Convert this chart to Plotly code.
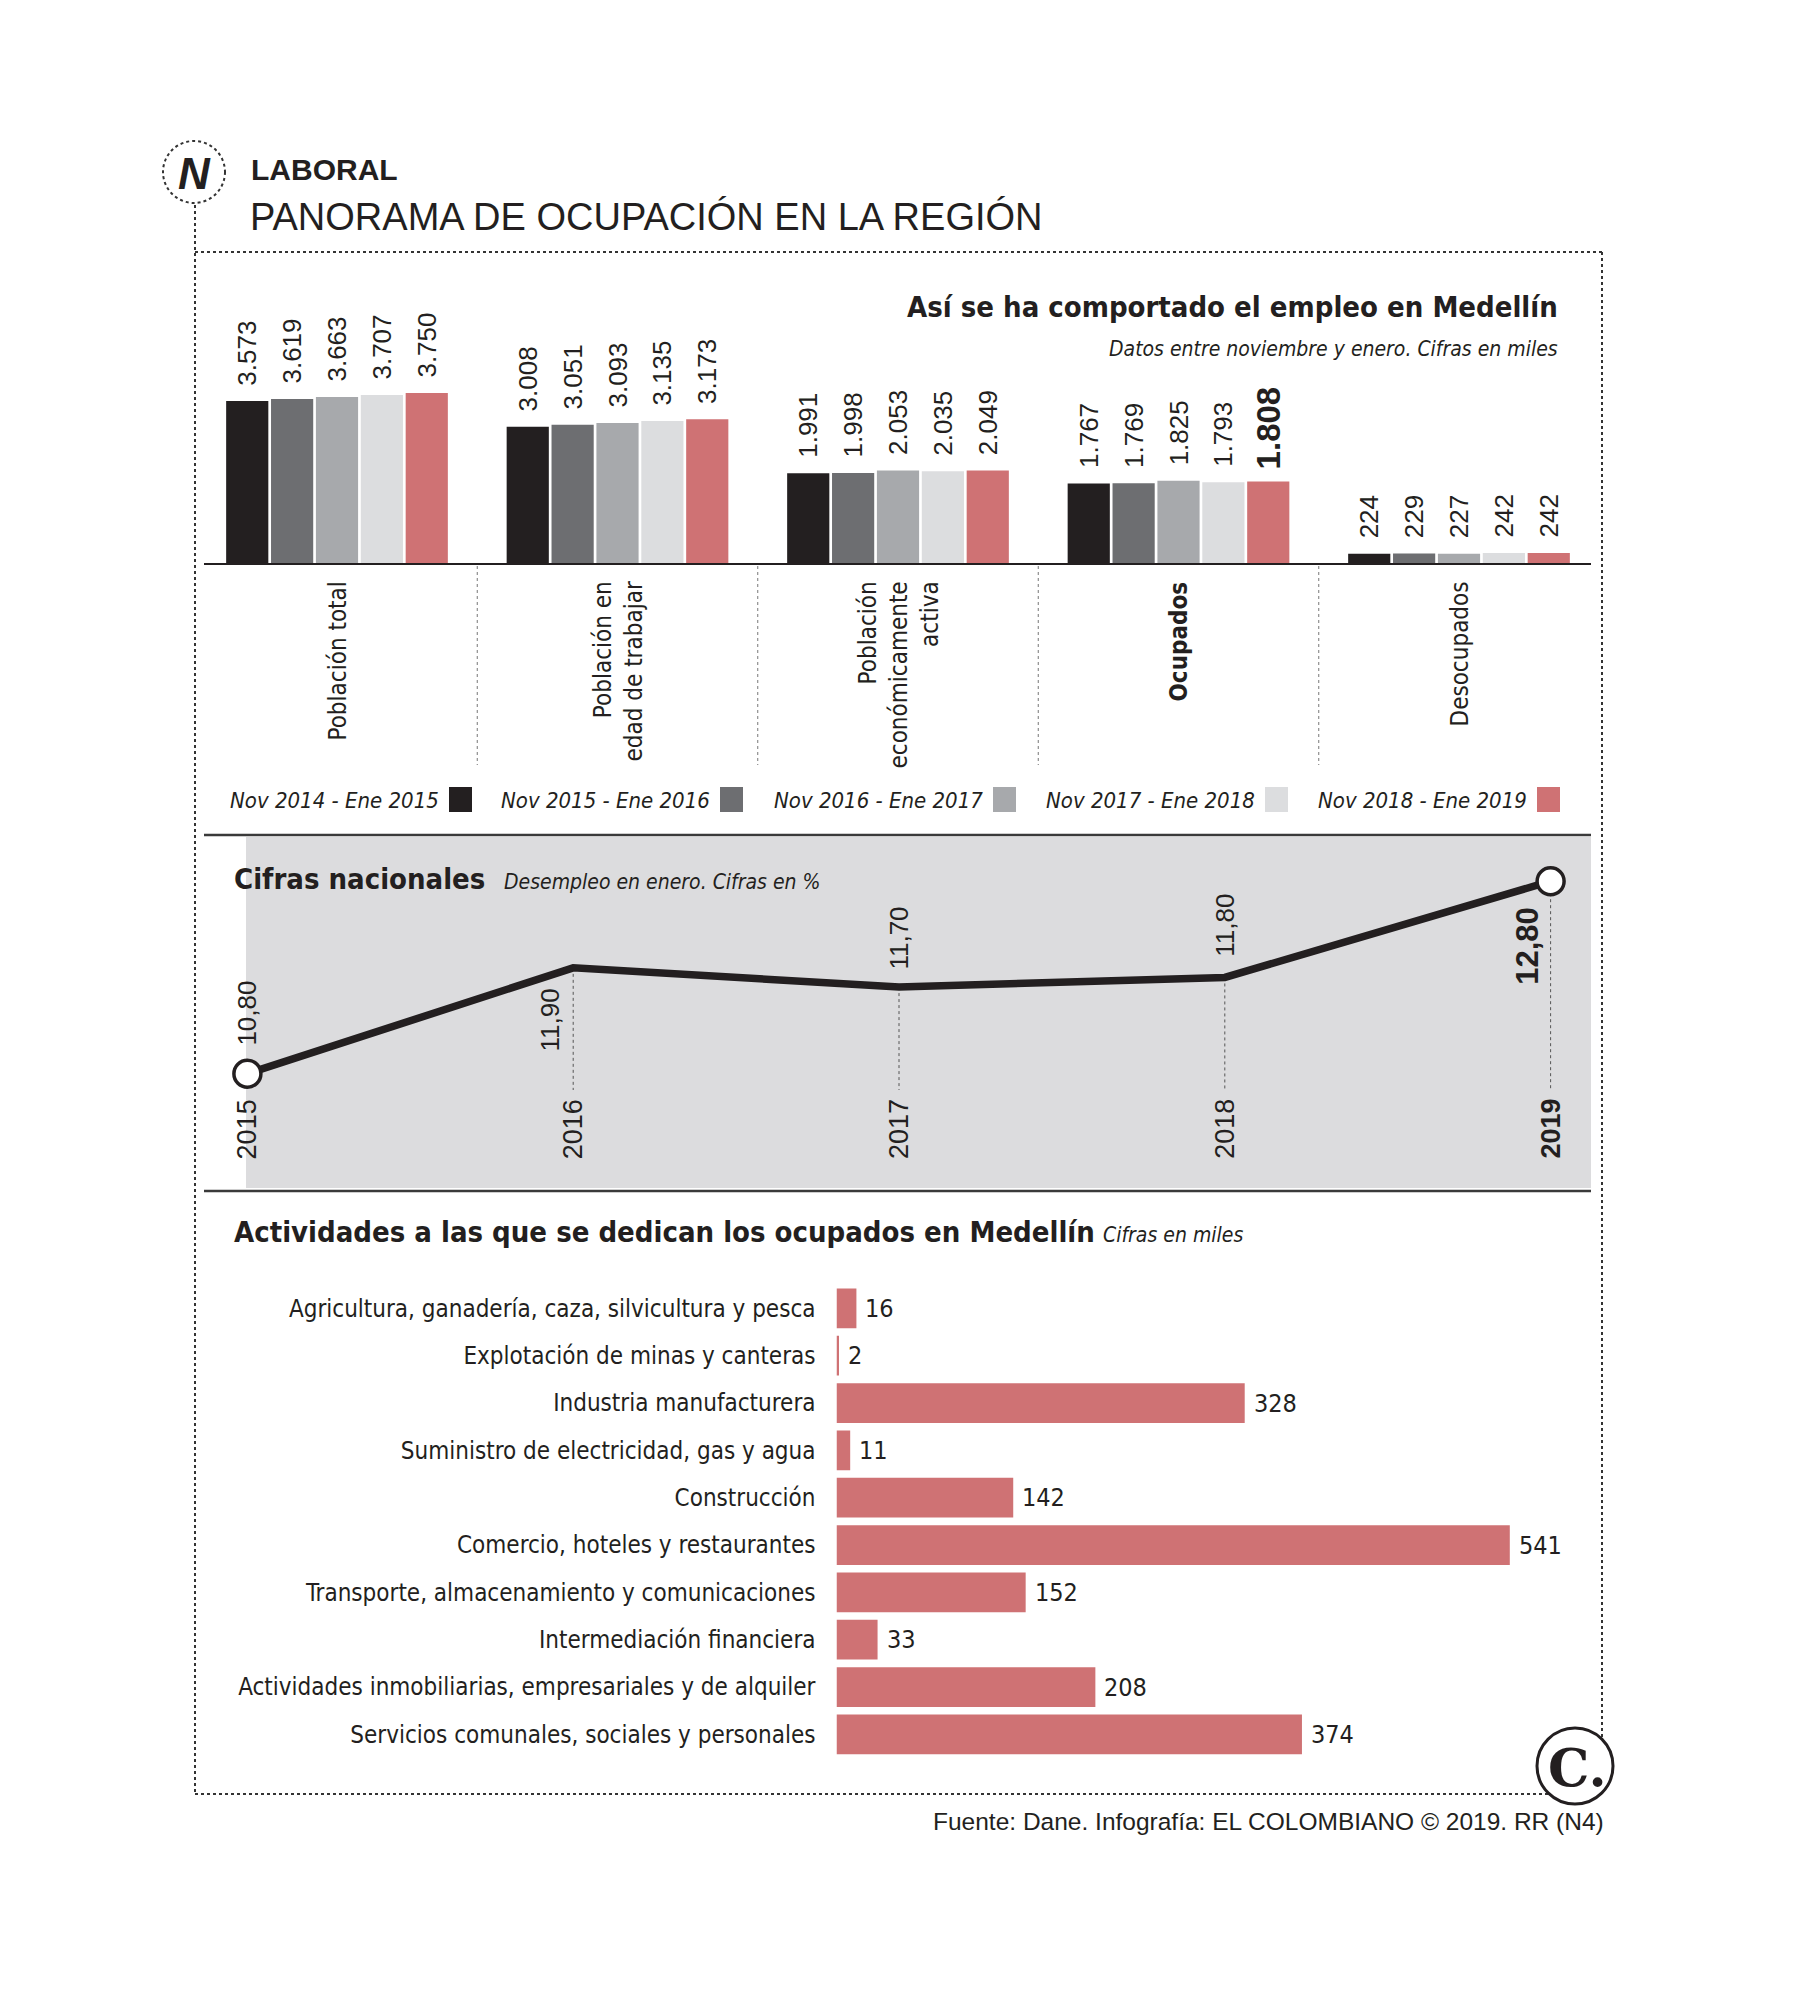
import plotly.graph_objects as go

W, H = 1798, 2000

# ---------------- DATA ----------------
periodos = ["Nov 2014 - Ene 2015", "Nov 2015 - Ene 2016", "Nov 2016 - Ene 2017",
            "Nov 2017 - Ene 2018", "Nov 2018 - Ene 2019"]
categorias = ["Población total", "Población en edad de trabajar",
              "Población económicamente activa", "Ocupados", "Desocupados"]
cat_labels = ["Población total", "Población en<br>edad de trabajar",
              "Población<br>económicamente<br>activa", "<b>Ocupados</b>", "Desocupados"]
v_2015 = [3573, 3008, 1991, 1767, 224]
v_2016 = [3619, 3051, 1998, 1769, 229]
v_2017 = [3663, 3093, 2053, 1825, 227]
v_2018 = [3707, 3135, 2035, 1793, 242]
v_2019 = [3750, 3173, 2049, 1808, 242]
serie_valores = [v_2015, v_2016, v_2017, v_2018, v_2019]

anios = [2015, 2016, 2017, 2018, 2019]
desempleo = [10.8, 11.9, 11.7, 11.8, 12.8]

actividades = ["Agricultura, ganadería, caza, silvicultura y pesca",
               "Explotación de minas y canteras",
               "Industria manufacturera",
               "Suministro de electricidad, gas y agua",
               "Construcción",
               "Comercio, hoteles y restaurantes",
               "Transporte, almacenamiento y comunicaciones",
               "Intermediación financiera",
               "Actividades inmobiliarias, empresariales y de alquiler",
               "Servicios comunales, sociales y personales"]
ocupados_act = [16, 2, 328, 11, 142, 541, 152, 33, 208, 374]

# ---------------- STYLE ----------------
colores = ["#231f20", "#6d6e71", "#a7a9ac", "#dcdddf", "#cf7274"]
INK = "#231f20"
NARROW = "Liberation Sans Narrow, DejaVu Sans Condensed, Arial Narrow, sans-serif"
SANS = "Liberation Sans, Arial, Helvetica, sans-serif"


def px(x):
    return x / W


def py(y):
    return 1 - y / H


def fmt_miles(v):
    return f"{v:,}".replace(",", ".")


def fmt_pct(v):
    return f"{v:.2f}".replace(".", ",")


fig = go.Figure()

# ---------------- TOP: grouped bars ----------------
top_base, top_top = 564, 264
scale_top = 171 / 3750  # px per unit
GAP = "\u00a0\u2009"
for i, (per, vals, col) in enumerate(zip(periodos, serie_valores, colores)):
    texts = [GAP + fmt_miles(v) for v in vals]
    sizes = [26] * len(vals)
    if i == len(periodos) - 1:
        k = categorias.index("Ocupados")
        texts[k] = "\u00a0<b>" + fmt_miles(vals[k]) + "</b>"
        sizes[k] = 33
    fig.add_trace(go.Bar(
        x=categorias, y=vals, name=per, marker=dict(color=col, line=dict(width=0)),
        text=texts, textposition="outside", textangle=-90, constraintext="none",
        textfont=dict(family=SANS, size=sizes, color=INK), cliponaxis=False,
        xaxis="x", yaxis="y", hoverinfo="skip"))

# ---------------- MIDDLE: line ----------------
lx0, lx1 = 247.4, 1550.6
ly_min_px, ly_max_px = 1073.7, 881.2
ppy = (lx1 - lx0) / (anios[-1] - anios[0])
ppv = (ly_min_px - ly_max_px) / (desempleo[-1] - desempleo[0])
mid_left, mid_right, mid_top, mid_bot = 204, 1591, 836, 1188
x2_range = [anios[0] - (lx0 - mid_left) / ppy, anios[-1] + (mid_right - lx1) / ppy]
y2_range = [desempleo[0] - (mid_bot - ly_min_px) / ppv, desempleo[0] + (ly_min_px - mid_top) / ppv]

fig.add_trace(go.Scatter(x=anios, y=desempleo, mode="lines",
                         line=dict(color=INK, width=7.5), xaxis="x2", yaxis="y2",
                         hoverinfo="skip", cliponaxis=False))
fig.add_trace(go.Scatter(x=[anios[0], anios[-1]], y=[desempleo[0], desempleo[-1]], mode="markers",
                         marker=dict(size=27, color="white", line=dict(color=INK, width=3.5)),
                         xaxis="x2", yaxis="y2", hoverinfo="skip", cliponaxis=False))

# ---------------- BOTTOM: horizontal bars ----------------
hb_left, hb_right = 836.5, 1591
pph = (1509.8 - 836.5) / 541
row_top, row_bot = 1284.7, 1758.0
fig.add_trace(go.Bar(
    x=ocupados_act, y=actividades, orientation="h", width=0.84,
    marker=dict(color=colores[-1], line=dict(width=0)),
    xaxis="x3", yaxis="y3", hoverinfo="skip"))

axis_off = dict(showgrid=False, zeroline=False, showticklabels=False, showline=False, ticks="")
fig.update_layout(
    width=W, height=H, margin=dict(l=0, r=0, t=0, b=0),
    paper_bgcolor="white", plot_bgcolor="rgba(0,0,0,0)", showlegend=False,
    barmode="group", bargap=0.2, bargroupgap=0.06,
    xaxis=dict(domain=[px(196.75), px(1599.25)], categoryorder="array",
               categoryarray=categorias, range=[-0.5, 4.5], **axis_off),
    yaxis=dict(domain=[py(top_base), py(top_top)],
               range=[0, (top_base - top_top) / scale_top], **axis_off),
    xaxis2=dict(domain=[px(mid_left), px(mid_right)], range=x2_range, anchor="y2", **axis_off),
    yaxis2=dict(domain=[py(mid_bot), py(mid_top)], range=y2_range, anchor="x2", **axis_off),
    xaxis3=dict(domain=[px(hb_left), px(hb_right)], range=[0, (hb_right - hb_left) / pph],
                anchor="y3", **axis_off),
    yaxis3=dict(domain=[py(row_bot), py(row_top)], anchor="x3", categoryorder="array",
                categoryarray=actividades, range=[len(actividades) - 0.5, -0.5],
                showgrid=False, zeroline=False, showline=False, ticks="",
                showticklabels=True, ticklabelstandoff=20,
                tickfont=dict(family=NARROW, size=24, color=INK)),
)

shapes = []
ann = []

# Outer dotted frame
frame = dict(color="#333333", width=2, dash="dot")
shapes.append(dict(type="line", xref="paper", yref="paper", x0=px(195), x1=px(1602), y0=py(252), y1=py(252), line=frame))
shapes.append(dict(type="line", xref="paper", yref="paper", x0=px(195), x1=px(195), y0=py(205), y1=py(1794), line=frame))
shapes.append(dict(type="line", xref="paper", yref="paper", x0=px(1602), x1=px(1602), y0=py(252), y1=py(1794), line=frame))
shapes.append(dict(type="line", xref="paper", yref="paper", x0=px(195), x1=px(1602), y0=py(1794), y1=py(1794), line=frame))

# N logo
shapes.append(dict(type="circle", xref="paper", yref="paper", x0=px(163), x1=px(225), y0=py(141), y1=py(203),
                   line=dict(color="#333333", width=2, dash="dot"), fillcolor="white"))
ann.append(dict(x=px(194), y=py(173), xref="paper", yref="paper", text="<b><i>N</i></b>", showarrow=False,
                font=dict(family=SANS, size=44, color=INK), xanchor="center", yanchor="middle"))

# Header
ann.append(dict(x=px(249), y=py(170), xref="paper", yref="paper", text="<b>LABORAL</b>", showarrow=False,
                font=dict(family=SANS, size=30, color=INK), xanchor="left", yanchor="middle"))
ann.append(dict(x=px(248), y=py(217), xref="paper", yref="paper", text="PANORAMA DE OCUPACIÓN EN LA REGIÓN",
                showarrow=False, font=dict(family=SANS, size=38, color=INK), xanchor="left", yanchor="middle"))

# Top chart titles
ann.append(dict(x=px(1560), y=py(307), xref="paper", yref="paper",
                text="<b>Así se ha comportado el empleo en Medellín</b>", showarrow=False,
                font=dict(family=NARROW, size=29, color=INK), xanchor="right", yanchor="middle"))
ann.append(dict(x=px(1560), y=py(349), xref="paper", yref="paper",
                text="<i>Datos entre noviembre y enero. Cifras en miles</i>", showarrow=False,
                font=dict(family=NARROW, size=21, color=INK), xanchor="right", yanchor="middle"))

# baseline of top chart
shapes.append(dict(type="line", xref="paper", yref="paper", x0=px(204), x1=px(1591), y0=py(564), y1=py(564),
                   line=dict(color=INK, width=2)))
# dotted separators between categories
for k in range(len(categorias) - 1):
    shapes.append(dict(type="line", xref="x", yref="paper", x0=k + 0.5, x1=k + 0.5, y0=py(566), y1=py(765),
                       line=dict(color="#777777", width=1, dash="dot")))
# category labels (rotated)
for c, lab in zip(categorias, cat_labels):
    ann.append(dict(x=c, xref="x", y=py(580), yref="paper", text=lab, showarrow=False, textangle=-90,
                    align="right", xanchor="center", yanchor="top",
                    font=dict(family=NARROW, size=24, color=INK)))

# legend row (text then swatch)
sw_right = [472, 743, 1016, 1288, 1560]
for per, col, r in zip(periodos, colores, sw_right):
    shapes.append(dict(type="rect", xref="paper", yref="paper", x0=px(r - 23), x1=px(r), y0=py(812), y1=py(787),
                       fillcolor=col, line=dict(width=0)))
    ann.append(dict(x=px(r - 31), y=py(800), xref="paper", yref="paper", text="<i>" + per + "</i>",
                    showarrow=False, xanchor="right", yanchor="middle",
                    font=dict(family=NARROW, size=22, color=INK)))

# separators
for yy in (835, 1191):
    shapes.append(dict(type="line", xref="paper", yref="paper", x0=px(204), x1=px(1591), y0=py(yy), y1=py(yy),
                       line=dict(color="#3a3a3a", width=2.5)))

# gray background of line chart
shapes.append(dict(type="rect", xref="paper", yref="paper", x0=px(246), x1=px(1591), y0=py(1188), y1=py(837),
                   fillcolor="#dcdcde", line=dict(width=0), layer="below"))

ann.append(dict(x=px(232), y=py(879), xref="paper", yref="paper", text="<b>Cifras nacionales</b>",
                showarrow=False, xanchor="left", yanchor="middle",
                font=dict(family=NARROW, size=29, color=INK)))
ann.append(dict(x=px(502), y=py(882), xref="paper", yref="paper", text="<i>Desempleo en enero. Cifras en %</i>",
                showarrow=False, xanchor="left", yanchor="middle",
                font=dict(family=NARROW, size=21, color=INK)))

# dotted drop lines and labels in the line chart
year_top_px = 1097
y_drop_end = y2_range[0] + (mid_bot - 1090) / (mid_bot - mid_top) * (y2_range[1] - y2_range[0])
for a, v in zip(anios[1:], desempleo[1:]):
    shapes.append(dict(type="line", xref="x2", yref="y2", x0=a, x1=a, y0=v, y1=y_drop_end,
                       line=dict(color="#555555", width=1, dash="dot"), layer="below"))

# (xshift, yshift, yanchor, bold, size) per point label
lbl_style = [(0, 26, "bottom", False, 26), (-23, -19, "top", False, 26), (0, 15, "bottom", False, 26),
             (0, 19, "bottom", False, 26), (-23, -24, "top", True, 31)]
for a, v, (xs, ys, ya, b, s) in zip(anios, desempleo, lbl_style):
    t = fmt_pct(v)
    ann.append(dict(x=a, y=v, xref="x2", yref="y2", text=("<b>%s</b>" % t) if b else t, showarrow=False,
                    textangle=-90, xanchor="center", yanchor=ya, xshift=xs, yshift=ys,
                    font=dict(family=SANS, size=s, color=INK)))
for a in anios:
    last = a == anios[-1]
    ann.append(dict(x=a, xref="x2", y=(mid_bot - year_top_px) / (mid_bot - mid_top), yref="y2 domain",
                    text=("<b>%d</b>" % a) if last else str(a), showarrow=False, textangle=-90,
                    xanchor="center", yanchor="top", font=dict(family=SANS, size=27, color=INK)))

# bottom title
ann.append(dict(x=px(232), y=py(1232), xref="paper", yref="paper",
                text="<b>Actividades a las que se dedican los ocupados en Medellín</b>", showarrow=False,
                xanchor="left", yanchor="middle", font=dict(family=NARROW, size=29, color=INK)))
ann.append(dict(x=px(1101), y=py(1235), xref="paper", yref="paper", text="<i>Cifras en miles</i>",
                showarrow=False, xanchor="left", yanchor="middle", font=dict(family=NARROW, size=21, color=INK)))

# hbar value labels
for a, v in zip(actividades, ocupados_act):
    ann.append(dict(x=v, y=a, xref="x3", yref="y3", text=str(v), showarrow=False, xanchor="left",
                    yanchor="middle", xshift=7, font=dict(family=NARROW, size=25, color=INK)))

# C logo
shapes.append(dict(type="circle", xref="paper", yref="paper", x0=px(1537), x1=px(1613), y0=py(1728), y1=py(1804),
                   line=dict(color=INK, width=3), fillcolor="white"))
ann.append(dict(x=px(1577), y=py(1767), xref="paper", yref="paper", text="<b>C.</b>", showarrow=False,
                xanchor="center", yanchor="middle", font=dict(family="DejaVu Serif, Liberation Serif, serif",
                                                              size=52, color=INK)))

# footer
ann.append(dict(x=px(1606), y=py(1821), xref="paper", yref="paper",
                text="Fuente: Dane. Infografía: EL COLOMBIANO © 2019. RR (N4)", showarrow=False,
                xanchor="right", yanchor="middle", font=dict(family=SANS, size=24.5, color=INK)))

fig.update_layout(shapes=shapes, annotations=ann)
fig.write_html("out.html", config={"displayModeBar": False},
               post_script="document.body.style.margin='0px';")
